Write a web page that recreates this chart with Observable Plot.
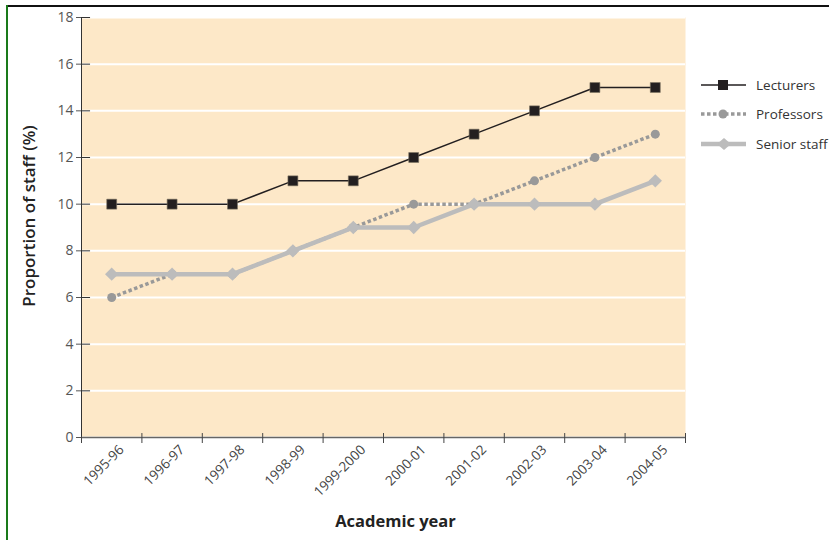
<!DOCTYPE html>
<html>
<head>
<meta charset="utf-8">
<script src="https://cdn.jsdelivr.net/npm/d3@7"></script>
<script src="https://cdn.jsdelivr.net/npm/@observablehq/plot@0.6"></script>
<style>
  html, body { margin: 0; padding: 0; background: #fff; }
  #wrap { position: relative; width: 829px; height: 540px; overflow: hidden; }
  #chart { position: absolute; left: 0; top: 0; }
  #topline { position: absolute; left: 6px; top: 5px; width: 823px; height: 2px; background: #111; }
  #leftline { position: absolute; left: 6px; top: 5px; width: 2px; height: 535px; background: #1a7a1a; }
  #legend { position: absolute; left: 0; top: 0; }
  #ylabel { position: absolute; left: 28px; top: 216px; transform: translate(-50%, -50%) rotate(-90deg);
            white-space: nowrap; font-family: 'Open Sans', sans-serif; font-size: 17px; font-weight: 600; color: #222; }
</style>
</head>
<body>
<div id="wrap">
  <div id="chart"></div>
  <div id="topline"></div>
  <div id="leftline"></div>
  <div id="ylabel"></div>
  <svg id="legend" width="829" height="540"></svg>
</div>
<script>
const years = ["1995-96","1996-97","1997-98","1998-99","1999-2000","2000-01","2001-02","2002-03","2003-04","2004-05"];
const lecturers = [10,10,10,11,11,12,13,14,15,15];
const professors = [6,7,7,8,9,10,10,11,12,13];
const seniorStaff = [7,7,7,8,9,9,10,10,10,11];
const yTicks = [0,2,4,6,8,10,12,14,16,18];
const seriesNames = ["Lecturers","Professors","Senior staff"];
const xTitle = "Academic year";
const yTitle = "Proportion of staff (%)";

const centers = years.map((_, i) => i + 0.5);
const bounds = d3.range(0, years.length + 1);
const X = (d, i) => i + 0.5;

const plot = Plot.plot({
  width: 829,
  height: 540,
  marginLeft: 81,
  marginRight: 144,
  marginTop: 17,
  marginBottom: 103,
  style: { fontFamily: "'Open Sans', sans-serif", background: "transparent" },
  x: { type: "linear", domain: [0, years.length] },
  y: { domain: [0, 18] },
  marks: [
    Plot.frame({ fill: "#fde8c8", stroke: null }),
    Plot.gridY(yTicks, { stroke: "#fff", strokeOpacity: 1, strokeWidth: 2 }),
    Plot.ruleY(yTicks, { x1: 0, x2: 0.15, stroke: "#333", strokeWidth: 1 }),
    Plot.ruleX(bounds, { y1: 0, y2: 0.17, stroke: "#444", strokeWidth: 1 }),
    Plot.ruleX([0], { stroke: "#333", strokeWidth: 1 }),
    Plot.ruleY([0], { stroke: "#666", strokeWidth: 1.5 }),
    Plot.line(professors, { x: X, y: d => d, stroke: "#999", strokeWidth: 3.5, strokeDasharray: "3.5,2.5", strokeLinecap: "butt", strokeLinejoin: "miter" }),
    Plot.dot(professors, { x: X, y: d => d, r: 4.5, fill: "#999", stroke: null }),
    Plot.line(seniorStaff, { x: X, y: d => d, stroke: "#bcbcbc", strokeWidth: 4.5 }),
    Plot.dot(seniorStaff, { x: X, y: d => d, symbol: "diamond2", r: 6, fill: "#bcbcbc", stroke: null }),
    Plot.line(lecturers, { x: X, y: d => d, stroke: "#231f20", strokeWidth: 1.5 }),
    Plot.dot(lecturers, { x: X, y: d => d, symbol: "square", r: 5.6, fill: "#231f20", stroke: "#7a7060", strokeWidth: 0.6 }),
    Plot.axisY({ ticks: yTicks, tickSize: 5, tickPadding: 3, label: null, fontSize: 14, color: "#555", style: { fontFamily: "'Liberation Sans', Arial, sans-serif" } }),
    Plot.axisX({ ticks: bounds, tickSize: 6, tickFormat: () => "", label: null, color: "#444" }),
    Plot.axisX({ ticks: centers, tickSize: 0, tickPadding: 10, tickRotate: -45, dx: 10, tickFormat: d => years[Math.floor(d)], label: null, fontSize: 13.5, color: "#444" }),
    Plot.text([xTitle], { frameAnchor: "bottom", dx: 12, dy: 89, fontSize: 16.5, fontWeight: "bold", fill: "#222" })
  ]
});
document.getElementById("chart").appendChild(plot);
document.getElementById("ylabel").textContent = yTitle;

// Legend
const lg = d3.select("#legend");
const items = [
  { name: seriesNames[0], y: 85, stroke: "#231f20", w: 1.5, dash: null, sym: "square" },
  { name: seriesNames[1], y: 114, stroke: "#999", w: 3.5, dash: "3.5,2.5", sym: "circle" },
  { name: seriesNames[2], y: 144, stroke: "#bcbcbc", w: 4.5, dash: null, sym: "diamond" }
];
items.forEach(it => {
  lg.append("line").attr("x1", 701).attr("x2", 746).attr("y1", it.y).attr("y2", it.y)
    .attr("stroke", it.stroke).attr("stroke-width", it.w).attr("stroke-dasharray", it.dash);
  if (it.sym === "square") {
    lg.append("rect").attr("x", 718).attr("y", it.y - 5).attr("width", 10).attr("height", 10).attr("fill", "#231f20");
  } else if (it.sym === "circle") {
    lg.append("circle").attr("cx", 723).attr("cy", it.y).attr("r", 4.5).attr("fill", "#999");
  } else {
    lg.append("path").attr("d", `M724,${it.y-6}L731,${it.y}L724,${it.y+6}L717,${it.y}Z`).attr("fill", "#bcbcbc");
  }
  lg.append("text").attr("x", 756).attr("y", it.y).attr("dy", "0.35em")
    .attr("font-family", "'Open Sans', sans-serif").attr("font-size", 13.5).attr("fill", "#333").text(it.name);
});
</script>
</body>
</html>
